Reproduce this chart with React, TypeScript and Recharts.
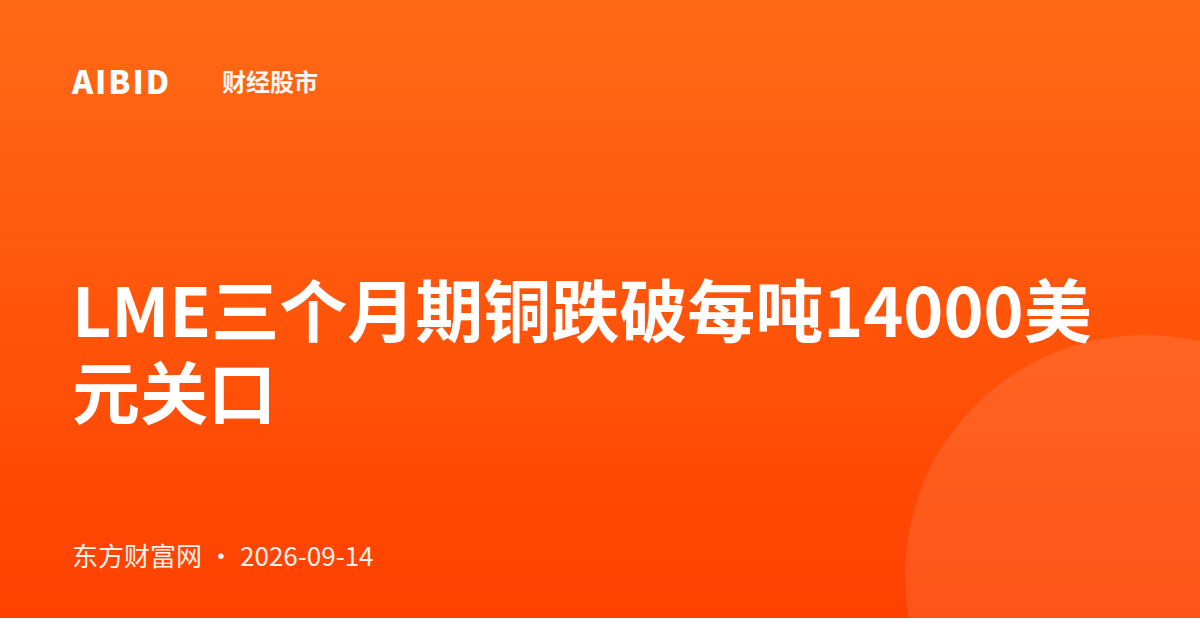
import React from "react";
import { PieChart, Pie } from "recharts";

const brand = "AIBID";
const category = "财经股市";
const titleText = "LME三个月期铜跌破每吨14000美元关口";
const sourceName = "东方财富网";
const dateText = "2026-09-14";
const decoData = [{ name: "deco", value: 1 }];

const FONT = '"Noto Sans CJK SC", "Noto Sans", sans-serif';

export default function App() {
  return (
    <div
      style={{
        position: "fixed",
        left: 0,
        top: 0,
        width: 1200,
        height: 618,
        overflow: "hidden",
        background: "linear-gradient(180deg, #ff6a16 0%, #ff4000 100%)",
        fontFamily: FONT,
        color: "#fff",
      }}
    >
      <div style={{ position: "absolute", left: 0, top: 0 }}>
        <PieChart width={1200} height={630}>
          <Pie
            data={decoData}
            dataKey="value"
            cx={1140}
            cy={570}
            innerRadius={0}
            outerRadius={240}
            startAngle={90}
            endAngle={450}
            fill="rgba(255,255,255,0.1)"
            stroke="none"
            isAnimationActive={false}
          />
        </PieChart>
      </div>
      <div
        style={{
          position: "absolute",
          left: 72,
          top: 64,
          fontSize: 32,
          fontWeight: 900,
          lineHeight: 1,
          letterSpacing: 2,
        }}
      >
        {brand}
      </div>
      <div
        style={{
          position: "absolute",
          left: 222,
          top: 69,
          fontSize: 24,
          fontWeight: 700,
          lineHeight: 1,
          opacity: 0.95,
        }}
      >
        {category}
      </div>
      <div
        style={{
          position: "absolute",
          left: 72,
          top: 267,
          width: 1056,
          fontSize: 68,
          fontWeight: 700,
          lineHeight: 1.2,
          letterSpacing: 0,
        }}
      >
        {titleText}
      </div>
      <div
        style={{
          position: "absolute",
          left: 72,
          top: 542,
          fontSize: 26,
          fontWeight: 400,
          lineHeight: 1,
          opacity: 0.92,
          whiteSpace: "nowrap",
        }}
      >
        <span>{sourceName}</span>
        <span style={{ margin: "0 6px" }}>·</span>
        <span>{dateText}</span>
      </div>
    </div>
  );
}
